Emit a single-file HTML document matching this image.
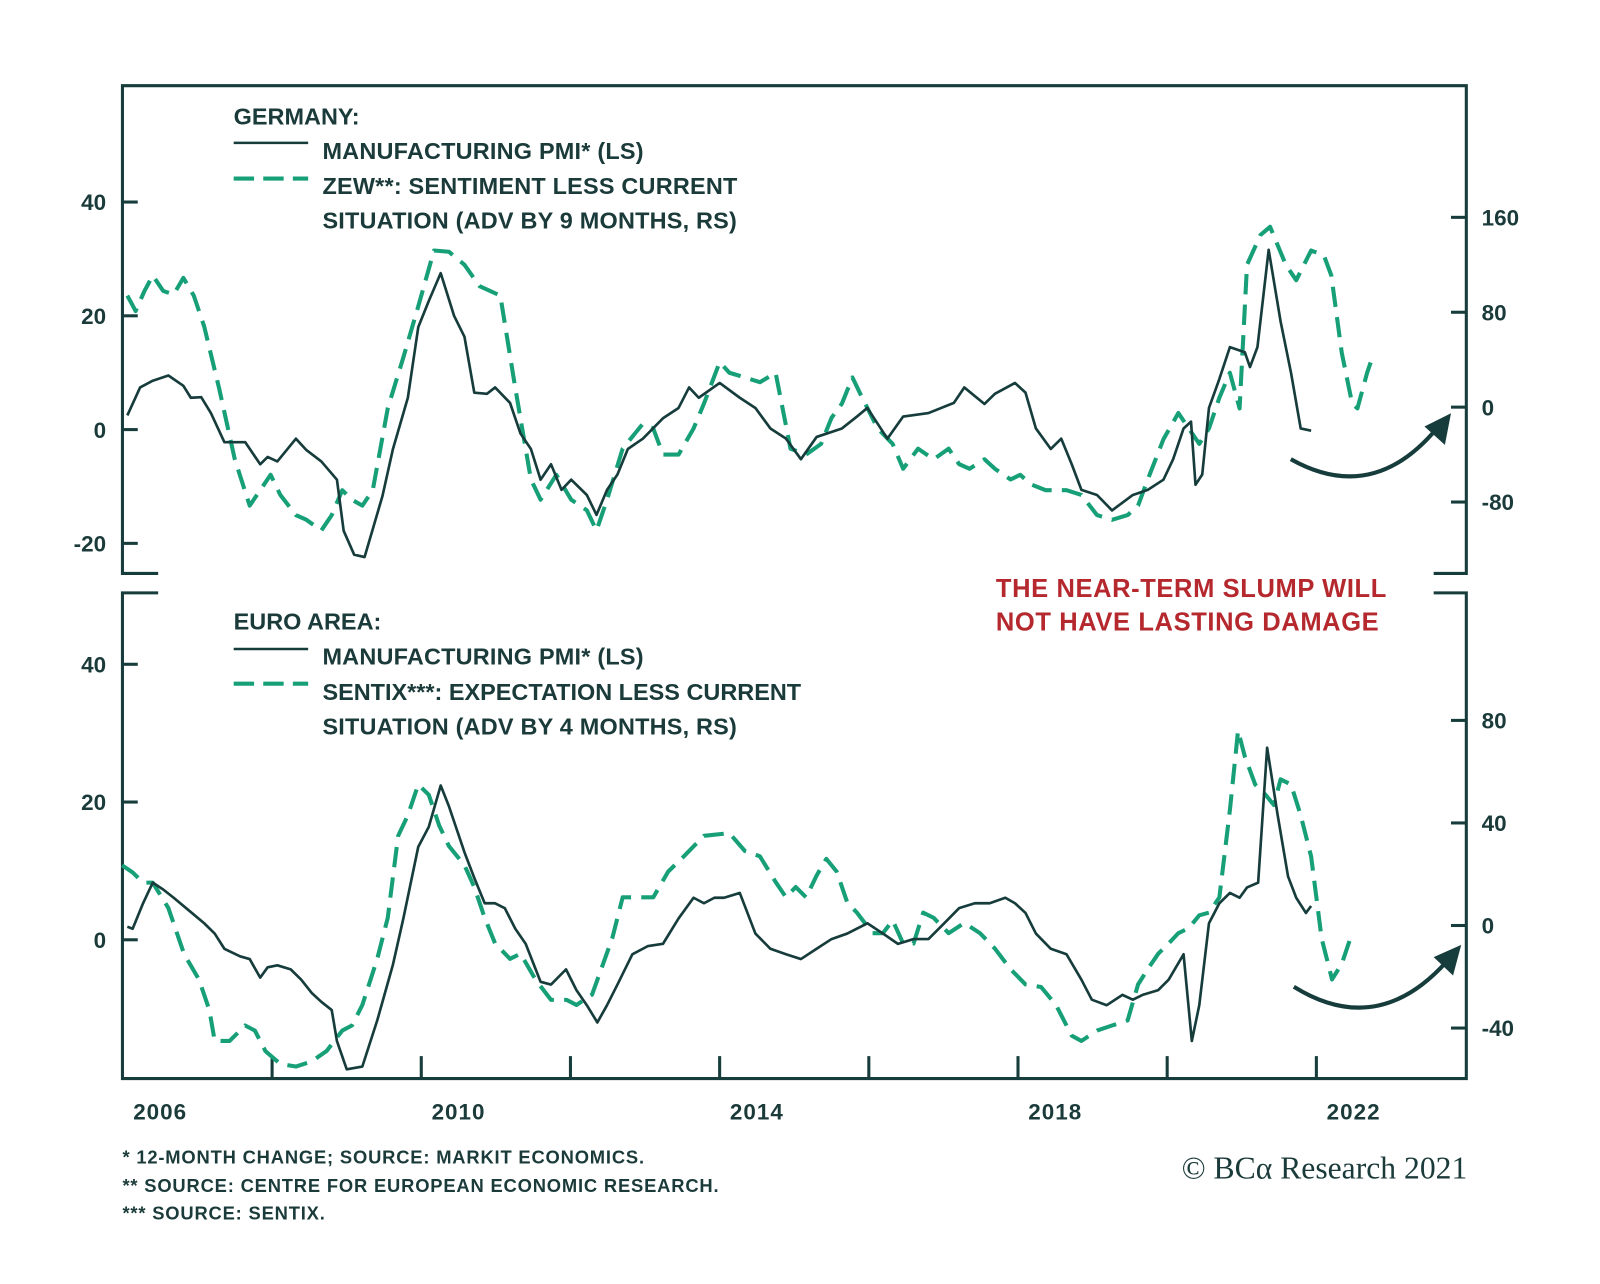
<!DOCTYPE html>
<html><head><meta charset="utf-8"><style>
html,body{margin:0;padding:0;background:#fff;}
svg{display:block;}
text{font-family:"Liberation Sans",sans-serif;font-weight:bold;fill:#1b3a3a;}
</style></head><body>
<svg id="chart" width="1600" height="1284" viewBox="0 0 1600 1284" xmlns="http://www.w3.org/2000/svg">
<g transform="scale(1.0204)">
<g id="frame" stroke="#173c3c" stroke-width="3" fill="none">
<path d="M155,562 H120 V84 H1437 V562 H1405"/>
<path d="M155,581 H120 V1057 H1437 V581 H1405"/>
</g>
<g id="axes"></g>
<g id="series"></g>
<g>
<text x="229" y="122" font-size="23" letter-spacing="0">GERMANY:</text>
<line x1="229" y1="140" x2="302" y2="140" stroke="#173c3c" stroke-width="2.5"/>
<text x="316" y="156" font-size="23" letter-spacing="0.2">MANUFACTURING PMI* (LS)</text>
<line x1="229" y1="175" x2="302" y2="175" stroke="#17a078" stroke-width="4" stroke-dasharray="20,9"/>
<text x="316" y="190" font-size="23" letter-spacing="0.2">ZEW**: SENTIMENT LESS CURRENT</text>
<text x="316" y="224" font-size="23" letter-spacing="0.2">SITUATION (ADV BY 9 MONTHS, RS)</text>
</g>
<g>
<text x="229" y="617" font-size="23" letter-spacing="0">EURO AREA:</text>
<line x1="229" y1="636" x2="302" y2="636" stroke="#173c3c" stroke-width="2.5"/>
<text x="316" y="651" font-size="23" letter-spacing="0.2">MANUFACTURING PMI* (LS)</text>
<line x1="229" y1="670" x2="302" y2="670" stroke="#17a078" stroke-width="4" stroke-dasharray="20,9"/>
<text x="316" y="686" font-size="23" letter-spacing="0">SENTIX***: EXPECTATION LESS CURRENT</text>
<text x="316" y="720" font-size="23" letter-spacing="0.2">SITUATION (ADV BY 4 MONTHS, RS)</text>
</g>
<g>
<text x="976" y="585" font-size="25" style="fill:#b5282e" letter-spacing="0.6">THE NEAR-TERM SLUMP WILL</text>
<text x="976" y="618" font-size="25" style="fill:#b5282e" letter-spacing="0.6">NOT HAVE LASTING DAMAGE</text>
<path d="M1265,450 Q1345,495 1408,420" stroke="#173c3c" stroke-width="4" fill="none"/>
<polygon points="1422,405 1396,418 1416,436" fill="#173c3c"/>
<path d="M1268,967 Q1350,1018 1418,942" stroke="#173c3c" stroke-width="4" fill="none"/>
<polygon points="1432,926 1405,938 1424,956" fill="#173c3c"/>
</g>
<g>
<text x="120" y="1140" font-size="18" letter-spacing="0.8">*   12-MONTH CHANGE; SOURCE: MARKIT ECONOMICS.</text>
<text x="120" y="1168" font-size="18" letter-spacing="0.8">**  SOURCE: CENTRE FOR EUROPEAN ECONOMIC RESEARCH.</text>
<text x="120" y="1195" font-size="18" letter-spacing="0.8">*** SOURCE: SENTIX.</text>
<text x="1158" y="1155" font-size="31" style="font-family:'Liberation Serif',serif;font-weight:normal">© BCα Research 2021</text>
</g>
</g>
</svg>
<script>
const xTickYears=[2007.5,2009.5,2011.5,2013.5,2015.5,2017.5,2019.5,2021.5];
const xLabelYears=[2006,2010,2014,2018,2022];
const topLeftTicks=[40,20,0,-20];
const topRightTicks=[160,80,0,-80];
const botLeftTicks=[40,20,0];
const botRightTicks=[80,40,0,-40];

const gerPmiDates=[2005.56,2005.73,2005.9,2006.11,2006.31,2006.41,2006.55,2006.68,2006.86,2007.14,2007.34,2007.44,2007.57,2007.82,2007.96,2008.16,2008.37,2008.46,2008.6,2008.74,2008.98,2009.12,2009.32,2009.46,2009.6,2009.76,2009.94,2010.08,2010.21,2010.38,2010.49,2010.69,2010.83,2010.97,2011.1,2011.24,2011.38,2011.51,2011.72,2011.85,2011.99,2012.13,2012.27,2012.47,2012.74,2012.95,2013.09,2013.22,2013.5,2013.77,2013.98,2014.18,2014.39,2014.59,2014.8,2015.14,2015.34,2015.48,2015.75,2015.96,2016.3,2016.64,2016.78,2017.05,2017.19,2017.46,2017.6,2017.74,2017.94,2018.08,2018.22,2018.35,2018.56,2018.76,2019.04,2019.24,2019.45,2019.58,2019.72,2019.82,2019.88,2019.97,2020.06,2020.2,2020.34,2020.54,2020.61,2020.71,2020.86,2021.02,2021.16,2021.29,2021.43];
const gerPmiValues=[2.5,7.4,8.6,9.5,7.7,5.6,5.7,2.9,-2.2,-2.2,-6.1,-4.8,-5.6,-1.6,-3.6,-5.6,-8.8,-17.8,-22,-22.4,-11.7,-3.4,5.6,18,22.6,27.5,20,16.3,6.5,6.3,7.4,4.7,-0.7,-3.4,-8.8,-6.1,-10.6,-8.8,-11.5,-15,-10.6,-7.9,-3.4,-1.6,2,3.8,7.4,5.6,8.2,5.6,3.8,0.2,-1.6,-5.2,-1.3,0.2,2.3,3.8,-1.6,2.3,2.9,4.7,7.4,4.5,6.3,8.2,6.5,0.2,-3.4,-1.6,-6.1,-10.6,-11.5,-14.2,-11.5,-10.6,-8.8,-5.2,0.2,1.4,-9.7,-7.9,3.8,8.9,14.5,13.6,11,14.5,31.6,19,10,0.2,-0.2];

const zewDates=[2005.56,2005.67,2005.79,2005.9,2006.04,2006.18,2006.31,2006.45,2006.59,2006.79,2007.0,2007.2,2007.34,2007.48,2007.61,2007.82,2007.96,2008.16,2008.3,2008.44,2008.57,2008.71,2008.85,2009.05,2009.26,2009.46,2009.67,2009.87,2010.08,2010.28,2010.56,2010.76,2010.97,2011.1,2011.31,2011.51,2011.72,2011.85,2011.99,2012.2,2012.47,2012.61,2012.74,2012.95,2013.15,2013.29,2013.5,2013.63,2013.84,2014.04,2014.25,2014.45,2014.66,2014.86,2015.0,2015.14,2015.28,2015.41,2015.62,2015.82,2015.96,2016.16,2016.37,2016.57,2016.71,2016.85,2017.05,2017.19,2017.4,2017.53,2017.67,2017.87,2018.15,2018.35,2018.56,2018.76,2018.97,2019.11,2019.24,2019.45,2019.65,2019.79,2019.93,2020.06,2020.2,2020.34,2020.47,2020.57,2020.75,2020.88,2021.09,2021.23,2021.43,2021.6,2021.7,2021.84,2021.98,2022.05,2022.18,2022.25];
const zewValues=[94,81,98,111,98,95,109,94,68,16,-44,-83,-70,-57,-74,-91,-95,-104,-91,-70,-78,-83,-70,-1,42,85,132,131,120,102,94,16,-61,-78,-57,-78,-87,-104,-78,-35,-14,-18,-40,-40,-18,3,38,29,25,21,29,-35,-40,-31,-9,3,25,8,-18,-31,-52,-35,-44,-35,-48,-52,-44,-52,-61,-57,-65,-70,-70,-74,-91,-95,-91,-83,-61,-27,-5,-18,-31,-18,8,29,-1,120,145,152,120,107,132,128,111,46,3,-1,29,42];

const eaPmiDates=[2005.56,2005.63,2005.77,2005.9,2006.04,2006.18,2006.38,2006.59,2006.73,2006.86,2007.07,2007.2,2007.34,2007.44,2007.57,2007.75,2007.89,2008.03,2008.16,2008.3,2008.37,2008.5,2008.71,2008.91,2009.12,2009.26,2009.46,2009.6,2009.76,2009.87,2010.08,2010.21,2010.35,2010.49,2010.62,2010.76,2010.9,2011.1,2011.24,2011.44,2011.58,2011.72,2011.86,2011.99,2012.13,2012.33,2012.54,2012.74,2012.95,2013.15,2013.29,2013.43,2013.56,2013.77,2013.98,2014.18,2014.39,2014.59,2014.8,2015.0,2015.21,2015.48,2015.69,2015.89,2016.1,2016.3,2016.51,2016.71,2016.92,2017.12,2017.33,2017.46,2017.6,2017.74,2017.94,2018.15,2018.35,2018.49,2018.69,2018.9,2019.04,2019.17,2019.38,2019.52,2019.72,2019.83,2019.93,2020.06,2020.2,2020.34,2020.47,2020.57,2020.72,2020.84,2020.98,2021.12,2021.23,2021.36,2021.43];
const eaPmiValues=[1.9,1.6,5.3,8.3,7.3,6.1,4.3,2.4,0.9,-1.3,-2.4,-2.8,-5.5,-4,-3.7,-4.3,-5.8,-7.7,-9,-10.2,-14.7,-18.8,-18.4,-11.7,-3.6,3.1,13.5,16.4,22.4,19.4,12.7,9,5.3,5.3,4.6,1.6,-0.6,-6.1,-6.5,-4.3,-7.3,-9.5,-12,-9.5,-6.5,-2.1,-0.9,-0.6,3.1,6.1,5.3,6.1,6.1,6.8,0.9,-1.3,-2.1,-2.8,-1.3,0.1,0.9,2.4,0.9,-0.6,0.1,0.1,2.4,4.6,5.3,5.3,6.1,5.3,3.9,0.9,-1.3,-2.1,-5.8,-8.7,-9.5,-8,-8.7,-8,-7.3,-5.8,-2.1,-14.7,-9.5,2.4,5.3,6.8,6.1,7.6,8.3,27.9,18.2,9.2,6.1,3.9,4.9];

const sentixDates=[2005.49,2005.63,2005.77,2005.9,2006.11,2006.32,2006.52,2006.66,2006.73,2006.93,2007.14,2007.27,2007.41,2007.61,2007.82,2008.03,2008.23,2008.44,2008.57,2008.71,2008.91,2009.05,2009.19,2009.32,2009.46,2009.6,2009.74,2009.87,2010.08,2010.21,2010.35,2010.49,2010.69,2010.83,2011.03,2011.24,2011.45,2011.58,2011.79,2012.06,2012.2,2012.4,2012.61,2012.81,2013.02,2013.29,2013.63,2013.84,2014.04,2014.25,2014.39,2014.52,2014.66,2014.8,2014.93,2015.07,2015.21,2015.34,2015.55,2015.69,2015.82,2015.96,2016.1,2016.23,2016.37,2016.57,2016.78,2016.99,2017.19,2017.4,2017.6,2017.81,2018.01,2018.22,2018.35,2018.56,2018.76,2018.97,2019.11,2019.24,2019.38,2019.52,2019.65,2019.79,2019.93,2020.06,2020.2,2020.34,2020.45,2020.54,2020.68,2020.82,2020.93,2021.02,2021.16,2021.29,2021.43,2021.57,2021.71,2021.84,2021.98];
const sentixValues=[23.5,20.7,16.7,16.7,6.8,-11.1,-21.1,-33,-45,-45,-39,-41,-49,-54,-55,-53,-49,-41,-39,-31,-13,3,35,43,55,51,39,31,23.5,15,3,-7,-13,-11,-21,-29,-29,-31,-27,-5,11,11,11,21,27,35,36,29,27,17,11,15,11,19.5,26,21,9,5,-3,-3,2,-7,-7,5,3,-3,1,-3,-9,-17,-23,-24,-31,-43,-45,-41,-39,-37,-23,-17,-11,-7,-3,-1,4,5,11,45,76,66,55,51,47,57,55,43,27,-5,-21,-15,-3];

const NS='http://www.w3.org/2000/svg';
const X=y=>157+(y-2006)*73.1;
const topL=v=>421-v*5.575, topR=v=>399-v*1.1625;
const botL=v=>921-v*6.75, botR=v=>907-v*2.5125;
const axes=document.getElementById('axes'), series=document.getElementById('series');
function mk(tag,attrs,parent){const e=document.createElementNS(NS,tag);for(const k in attrs)e.setAttribute(k,attrs[k]);parent.appendChild(e);return e;}
function yTicks(ticks,fn,left,name){
  ticks.forEach(t=>{
    const y=fn(t);
    const l=mk('line',{x1:left?120:1422,x2:left?135:1437,y1:y,y2:y,stroke:'#173c3c','stroke-width':3},axes);
    
    
    const tx=mk('text',{x:left?104:1452,y:y+8,'font-size':22,'text-anchor':left?'end':'start'},axes);
    tx.textContent=String(t);
    
    
  });
}
yTicks(topLeftTicks,topL,true,'top-left-axis');
yTicks(topRightTicks,topR,false,'top-right-axis');
yTicks(botLeftTicks,botL,true,'bottom-left-axis');
yTicks(botRightTicks,botR,false,'bottom-right-axis');
xTickYears.forEach(yr=>{
  const l=mk('line',{x1:X(yr),x2:X(yr),y1:1057,y2:1035,stroke:'#173c3c','stroke-width':3},axes);
  
  
});
xLabelYears.forEach(yr=>{
  const t=mk('text',{x:X(yr),y:1097,'font-size':22,'letter-spacing':'1','text-anchor':'middle'},axes);
  t.textContent=String(yr);
  
  
});
function line(dates,vals,fn,dashed,name){
  const d=dates.map((t,i)=>(i?'L':'M')+X(t).toFixed(1)+','+fn(vals[i]).toFixed(1)).join(' ');
  const p=mk('path',{d:d,fill:'none',stroke:dashed?'#17a078':'#173c3c','stroke-width':dashed?4:2.6,'stroke-linejoin':'round'},series);
  if(dashed)p.setAttribute('stroke-dasharray','20,10');
  
  
}
line(zewDates,zewValues,topR,true,'germany-zew-line');
line(gerPmiDates,gerPmiValues,topL,false,'germany-pmi-line');
line(sentixDates,sentixValues,botR,true,'euro-sentix-line');
line(eaPmiDates,eaPmiValues,botL,false,'euro-pmi-line');
</script>
</body></html>
